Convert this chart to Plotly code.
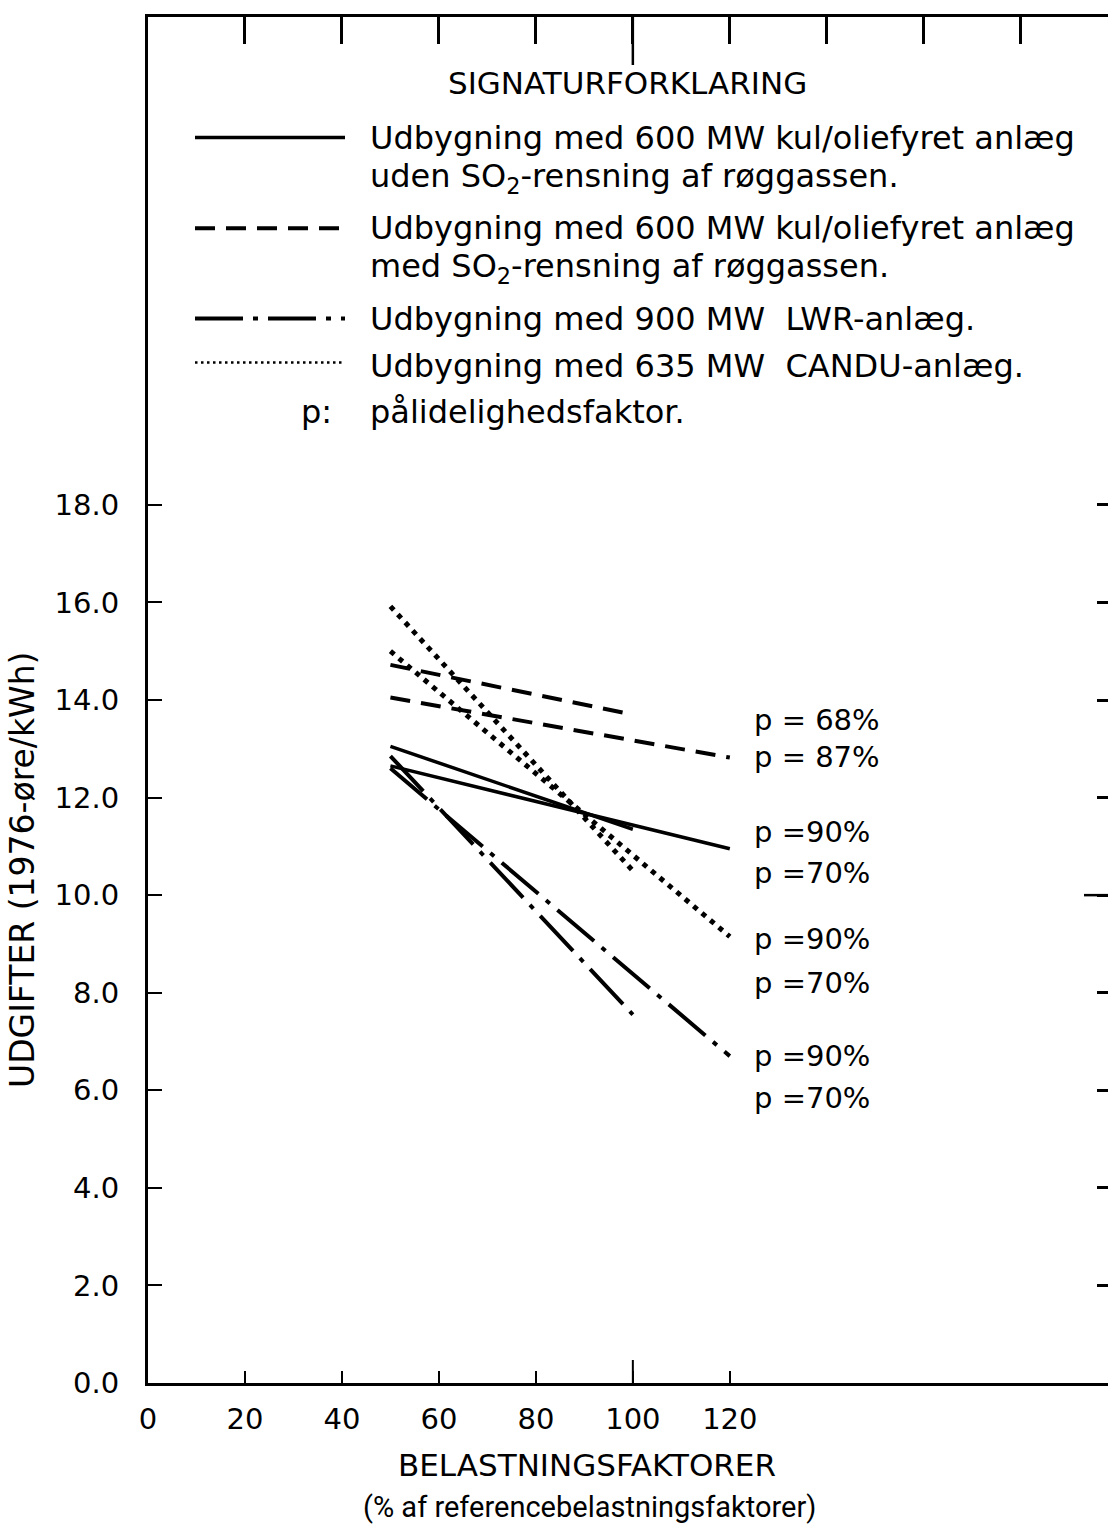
import plotly.graph_objects as go

# ---- data: cost of electricity vs. load factor ----
# x: load factor (% of reference load factor), y: cost (1976-øre/kWh)
kul_uden_p70_x = [50, 100]
kul_uden_p70_y = [13.05, 11.35]
kul_uden_p90_x = [50, 120]
kul_uden_p90_y = [12.65, 10.95]

kul_med_p68_x = [50, 100]
kul_med_p68_y = [14.72, 13.70]
kul_med_p87_x = [50, 120]
kul_med_p87_y = [14.05, 12.82]

lwr_p70_x = [50, 100]
lwr_p70_y = [12.85, 7.55]
lwr_p90_x = [50, 120]
lwr_p90_y = [12.60, 6.70]

candu_p70_x = [50, 100]
candu_p70_y = [15.92, 10.50]
candu_p90_x = [50, 120]
candu_p90_y = [15.00, 9.15]

x_ticks = [0, 20, 40, 60, 80, 100, 120]
y_ticks = [0, 2, 4, 6, 8, 10, 12, 14, 16, 18]
top_ticks = [20, 40, 60, 80, 100, 120, 140, 160, 180]
right_ticks = [2, 4, 6, 8, 10, 12, 14, 16, 18]

p_labels = ["p = 68%", "p = 87%", "p =90%", "p =70%", "p =90%", "p =70%", "p =90%", "p =70%"]
p_label_y = [13.6, 12.83, 11.3, 10.45, 9.1, 8.2, 6.7, 5.85]

legend_lines = [
    "Udbygning med 600 MW kul/oliefyret anlæg",
    "uden SO<sub>2</sub>-rensning af røggassen.",
    "Udbygning med 600 MW kul/oliefyret anlæg",
    "med SO<sub>2</sub>-rensning af røggassen.",
    "Udbygning med 900 MW  LWR-anlæg.",
    "Udbygning med 635 MW  CANDU-anlæg.",
    "pålidelighedsfaktor.",
]
legend_line_y = [25.53, 24.69, 23.67, 22.85, 21.82, 20.84, 19.90]

FONT = "DejaVu Sans"
NARROW = "Roboto"
BLACK = "#000000"

SOLID = dict(color=BLACK, width=3.5)
DASHED = dict(color=BLACK, width=4, dash="20px,11px")
DASHDOT = dict(color=BLACK, width=4, dash="48px,10px,5px,10px")
DOTTED = dict(color=BLACK, width=5, dash="5px,6px")

fig = go.Figure()

series = [
    (kul_uden_p70_x, kul_uden_p70_y, SOLID),
    (kul_uden_p90_x, kul_uden_p90_y, SOLID),
    (kul_med_p68_x, kul_med_p68_y, DASHED),
    (kul_med_p87_x, kul_med_p87_y, DASHED),
    (lwr_p70_x, lwr_p70_y, DASHDOT),
    (lwr_p90_x, lwr_p90_y, DASHDOT),
    (candu_p70_x, candu_p70_y, DOTTED),
    (candu_p90_x, candu_p90_y, DOTTED),
]
for xs, ys, style in series:
    fig.add_trace(go.Scatter(x=xs, y=ys, mode="lines", line=style,
                             showlegend=False, hoverinfo="skip"))

# empty trace so the top / right tick axes are rendered
fig.add_trace(go.Scatter(x=[], y=[], xaxis="x2", yaxis="y2", showlegend=False))

X_RANGE = [0, 198]
Y_RANGE = [0, 28]

fig.update_layout(
    width=1108, height=1532,
    margin=dict(l=148, r=0, t=17, b=149),
    paper_bgcolor="white", plot_bgcolor="white",
    font=dict(family=FONT, color=BLACK, size=31),
    xaxis=dict(
        range=X_RANGE, showgrid=False, zeroline=False,
        showline=True, linecolor=BLACK, linewidth=3,
        ticks="inside", ticklen=12, tickwidth=2, tickcolor=BLACK,
        tickvals=x_ticks, ticktext=[str(v) for v in x_ticks],
        tickfont=dict(size=29, family=FONT), ticklabelstandoff=8,
    ),
    yaxis=dict(
        range=Y_RANGE, showgrid=False, zeroline=False,
        showline=True, linecolor=BLACK, linewidth=3,
        ticks="inside", ticklen=14, tickwidth=2, tickcolor=BLACK,
        tickvals=y_ticks, ticktext=[f"{v:.1f}" for v in y_ticks],
        tickfont=dict(size=29, family=FONT), ticklabelstandoff=20,
    ),
    xaxis2=dict(
        range=X_RANGE, overlaying="x", side="top", anchor="y",
        showgrid=False, zeroline=False, showline=True,
        linecolor=BLACK, linewidth=3,
        ticks="inside", ticklen=27, tickwidth=2.5, tickcolor=BLACK,
        tickvals=top_ticks, showticklabels=False,
    ),
    yaxis2=dict(
        range=Y_RANGE, overlaying="y", side="right", anchor="x",
        showgrid=False, zeroline=False, showline=False,
        ticks="inside", ticklen=11, tickwidth=2.5, tickcolor=BLACK,
        tickvals=right_ticks, showticklabels=False,
    ),
)

shapes = []
# longer marker ticks (x = 100 top and bottom, y = 10 right)
shapes.append(dict(type="line", xref="x", yref="paper", x0=100, x1=100,
                   y0=1, y1=1 - 48 / 1366, line=dict(color=BLACK, width=2.5)))
shapes.append(dict(type="line", xref="x", yref="paper", x0=100, x1=100,
                   y0=0, y1=23 / 1366, line=dict(color=BLACK, width=2)))
shapes.append(dict(type="line", xref="paper", yref="y", x0=1, x1=1 - 24 / 960,
                   y0=10, y1=10, line=dict(color=BLACK, width=2.5)))

# key line samples
key_x0, key_x1 = (195 - 148) / 960, (345 - 148) / 960
for yv, style in [(25.53, SOLID), (23.67, DASHED), (21.82, DASHDOT)]:
    shapes.append(dict(type="line", xref="paper", yref="y", x0=key_x0, x1=key_x1,
                       y0=yv, y1=yv, line=style))
shapes.append(dict(type="line", xref="paper", yref="y", x0=key_x0, x1=(343 - 148) / 960,
                   y0=20.92, y1=20.92, line=dict(color=BLACK, width=2.5, dash="2.5px,3.5px")))
fig.update_layout(shapes=shapes)

ann = []
ann.append(dict(text="SIGNATURFORKLARING", xref="paper", yref="y",
                x=(627 - 148) / 960, y=26.64, showarrow=False,
                xanchor="center", yanchor="middle", font=dict(size=31)))
for txt, yv in zip(legend_lines, legend_line_y):
    ann.append(dict(text=txt, xref="paper", yref="y", x=(368 - 148) / 960, y=yv,
                    showarrow=False, xanchor="left", yanchor="middle",
                    font=dict(size=32)))
ann.append(dict(text="p:", xref="paper", yref="y", x=(334 - 148) / 960, y=19.90,
                showarrow=False, xanchor="right", yanchor="middle", font=dict(size=32)))

for txt, yv in zip(p_labels, p_label_y):
    ann.append(dict(text=txt, xref="x", yref="y", x=124.5, y=yv, showarrow=False,
                    xanchor="left", yanchor="middle", font=dict(size=29)))

ann.append(dict(text="BELASTNINGSFAKTORER", xref="paper", yref="paper",
                x=(587 - 148) / 960, y=(1383 - 1465) / 1366, showarrow=False,
                xanchor="center", yanchor="middle", font=dict(size=31)))
ann.append(dict(text="(% af referencebelastningsfaktorer)", xref="paper", yref="paper",
                x=(589 - 148) / 960, y=(1383 - 1507) / 1366, showarrow=False,
                xanchor="center", yanchor="middle", font=dict(size=29, family=NARROW)))
ann.append(dict(text="UDGIFTER (1976-øre/kWh)", xref="paper", yref="paper",
                x=(22 - 148) / 960, y=(1383 - 870) / 1366, showarrow=False,
                textangle=-90, xanchor="center", yanchor="middle",
                font=dict(size=33)))
fig.update_layout(annotations=ann)

fig.write_html("out.html")
